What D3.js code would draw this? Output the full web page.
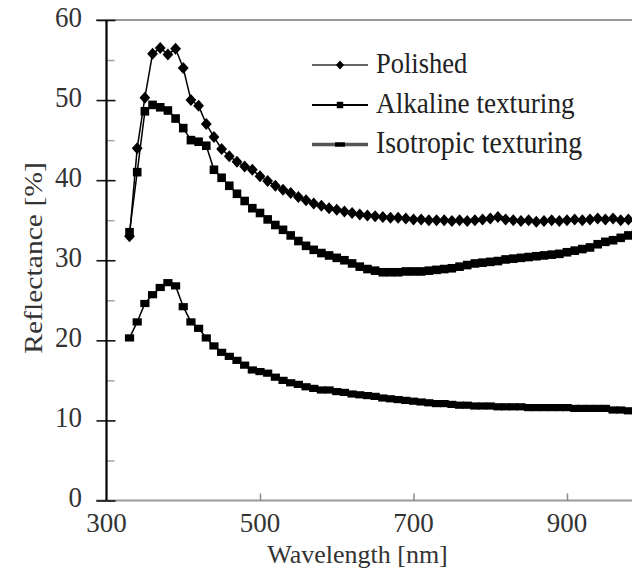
<!DOCTYPE html>
<html>
<head>
<meta charset="utf-8">
<script src="https://cdn.jsdelivr.net/npm/d3@7"></script>
<style>
  html, body { margin: 0; padding: 0; background: #fff; }
  svg { display: block; }
</style>
</head>
<body>
<svg id="chart" width="632" height="573"></svg>
<script>
// Measured reflectance spectra, wavelength in nm, reflectance in %
const wavelength = [330,340,350,360,370,380,390,400,410,420,430,440,450,460,470,480,490,500,
  510,520,530,540,550,560,570,580,590,600,610,620,630,640,650,660,670,680,690,700,
  710,720,730,740,750,760,770,780,790,800,810,820,830,840,850,860,870,880,890,900,
  910,920,930,940,950,960,970,980,990];

const polished = [33.0,44.0,50.3,55.8,56.5,55.7,56.4,54.0,50.0,49.3,47.0,45.4,43.9,43.0,42.3,41.7,41.3,40.5,
  39.9,39.3,38.8,38.4,37.9,37.5,37.1,36.8,36.5,36.3,36.1,35.9,35.7,35.6,35.5,35.4,35.3,35.3,35.2,35.1,
  35.1,35.0,35.0,35.0,34.9,35.0,34.9,35.0,35.1,35.2,35.4,35.1,35.0,34.9,35.0,34.8,34.9,35.0,34.9,35.0,
  35.1,35.0,35.1,35.2,35.1,35.2,35.0,35.1,35.0];

const alkaline = [33.5,41.0,48.6,49.4,49.1,48.7,47.7,46.5,45.0,44.8,44.3,41.3,40.3,39.3,38.3,37.4,36.5,35.9,
  35.1,34.4,33.8,33.1,32.4,31.8,31.3,30.9,30.6,30.3,30.0,29.6,29.2,28.9,28.7,28.5,28.5,28.5,28.6,28.6,
  28.6,28.7,28.8,28.9,29.0,29.2,29.4,29.6,29.7,29.8,29.9,30.1,30.2,30.3,30.4,30.5,30.6,30.7,30.8,31.0,
  31.2,31.4,31.6,32.0,32.3,32.5,32.8,33.1,33.3];

const isotropic = [20.3,22.3,24.6,25.7,26.6,27.2,26.8,24.2,22.3,21.5,20.3,19.3,18.5,18.0,17.5,16.9,16.3,16.1,
  15.9,15.4,15.0,14.7,14.5,14.2,14.0,13.8,13.8,13.6,13.5,13.3,13.2,13.1,13.0,12.8,12.7,12.6,12.5,12.4,
  12.3,12.2,12.1,12.1,12.0,11.9,11.9,11.8,11.8,11.8,11.7,11.7,11.7,11.7,11.6,11.6,11.6,11.6,11.6,11.6,
  11.5,11.5,11.5,11.5,11.5,11.3,11.3,11.2,11.2];

const seriesNames = ["Polished", "Alkaline texturing", "Isotropic texturing"];
const yMajorTicks = [0, 10, 20, 30, 40, 50, 60];
const yMinorTicks = [5, 15, 25, 35, 45, 55];
const xTicks = [300, 500, 700, 900];
const xTickLabels = ["300", "500", "700", "900"];
const xTitle = "Wavelength [nm]";
const yTitle = "Reflectance [%]";

const svg = d3.select("#chart");
const SERIF = "'Liberation Serif', 'Times New Roman', serif";

const x = d3.scaleLinear().domain([300, 1000]).range([106.5, 643.75]);
const y = d3.scaleLinear().domain([0, 60]).range([500.5, 20]);

// frame: top border and bottom axis line
svg.append("line").attr("x1", 96).attr("x2", 632).attr("y1", y(60)).attr("y2", y(60))
  .attr("stroke", "#9a9a9a").attr("stroke-width", 1.8);
svg.append("line").attr("x1", 96).attr("x2", 632).attr("y1", y(0)).attr("y2", y(0))
  .attr("stroke", "#9a9a9a").attr("stroke-width", 1.8);

// x axis: short inward ticks
const xAxis = d3.axisBottom(x).tickValues(xTicks.slice(1)).tickSize(-7).tickFormat("");
const gx = svg.append("g").attr("transform", `translate(0,${y(0)})`).call(xAxis);
gx.select(".domain").remove();
gx.selectAll(".tick line").attr("stroke", "#8a8a8a").attr("stroke-width", 1.5);

// y axis: major ticks crossing the axis, minor ticks inside
const yOut = d3.axisLeft(y).tickValues(yMajorTicks).tickSize(10).tickFormat("");
const gyo = svg.append("g").attr("transform", `translate(${x(300)},0)`).call(yOut);
gyo.select(".domain").remove();
gyo.selectAll(".tick line").attr("stroke", "#111").attr("stroke-width", 1.6);

const yIn = d3.axisRight(y).tickValues(yMajorTicks).tickSize(9).tickFormat("");
const gyi = svg.append("g").attr("transform", `translate(${x(300)},0)`).call(yIn);
gyi.select(".domain").remove();
gyi.selectAll(".tick line").attr("stroke", "#111").attr("stroke-width", 1.6);

const yMinor = d3.axisRight(y).tickValues(yMinorTicks).tickSize(8).tickFormat("");
const gym = svg.append("g").attr("transform", `translate(${x(300)},0)`).call(yMinor);
gym.select(".domain").remove();
gym.selectAll(".tick line").attr("stroke", "#a0a0a0").attr("stroke-width", 1.5);

// y axis spine
svg.append("line").attr("x1", x(300)).attr("x2", x(300)).attr("y1", y(60)).attr("y2", y(0))
  .attr("stroke", "#000").attr("stroke-width", 2.2);

// tick labels
svg.selectAll("text.ylab").data(yMajorTicks).join("text")
  .attr("class", "ylab")
  .attr("transform", d => `translate(82,${y(d) + 6.5}) scale(1,1.12)`)
  .attr("text-anchor", "end")
  .attr("font-family", SERIF).attr("font-size", 27).attr("fill", "#333")
  .text(d => d);

svg.selectAll("text.xlab").data(xTicks).join("text")
  .attr("class", "xlab")
  .attr("x", d => x(d)).attr("y", 532)
  .attr("text-anchor", "middle")
  .attr("font-family", SERIF).attr("font-size", 27).attr("fill", "#333")
  .text((d, i) => xTickLabels[i]);

// axis titles
svg.append("text")
  .attr("x", 357.5).attr("y", 563)
  .attr("text-anchor", "middle")
  .attr("font-family", SERIF).attr("font-size", 26).attr("fill", "#333")
  .text(xTitle);

svg.append("text")
  .attr("transform", "translate(42,258) rotate(-90) scale(1.14,1)")
  .attr("text-anchor", "middle")
  .attr("font-family", SERIF).attr("font-size", 26).attr("fill", "#333")
  .text(yTitle);

// series
const marker = {
  diamond: g => g.append("path").attr("d", "M0,-6L5.4,0L0,6L-5.4,0Z"),
  square: g => g.append("rect").attr("x", -4.3).attr("y", -4.3).attr("width", 8.6).attr("height", 8.6),
  dash: g => g.append("rect").attr("x", -4.6).attr("y", -3.6).attr("width", 9.2).attr("height", 7.2)
};

const series = [
  { name: seriesNames[0], values: polished, shape: "diamond" },
  { name: seriesNames[1], values: alkaline, shape: "square" },
  { name: seriesNames[2], values: isotropic, shape: "dash" }
];

const line = d3.line().x(d => x(d[0])).y(d => y(d[1]));

series.forEach(s => {
  const pts = wavelength.map((w, i) => [w, s.values[i]]);
  svg.append("path").datum(pts)
    .attr("d", line).attr("fill", "none").attr("stroke", "#000").attr("stroke-width", 1.5);
  svg.append("g").selectAll("g").data(pts).join("g")
    .attr("transform", d => `translate(${x(d[0])},${y(d[1])})`)
    .each(function () { marker[s.shape](d3.select(this)).attr("fill", "#000"); });
});

// legend
const legendRows = [65, 105, 144.5];
const legendSizes = [26.5, 27.2, 27.8];
const legendStroke = [
  { color: "#666", width: 2 },
  { color: "#000", width: 1.8 },
  { color: "#555", width: 3.4 }
];
const lg = svg.append("g");
series.forEach((s, i) => {
  const ly = legendRows[i];
  lg.append("line").attr("x1", 312).attr("x2", 368).attr("y1", ly).attr("y2", ly)
    .attr("stroke", legendStroke[i].color).attr("stroke-width", legendStroke[i].width);
  const m = lg.append("g").attr("transform", `translate(340,${ly})`);
  if (s.shape === "dash") {
    m.append("rect").attr("x", -5).attr("y", -2.2).attr("width", 10).attr("height", 4.4).attr("fill", "#000");
  } else {
    marker[s.shape](m).attr("fill", "#000").attr("transform", "scale(0.75)");
  }
  lg.append("text")
    .attr("transform", `translate(376,${ly + 8}) scale(1,1.1)`)
    .attr("font-family", SERIF).attr("font-size", legendSizes[i]).attr("fill", "#222")
    .text(s.name);
});
</script>
</body>
</html>
